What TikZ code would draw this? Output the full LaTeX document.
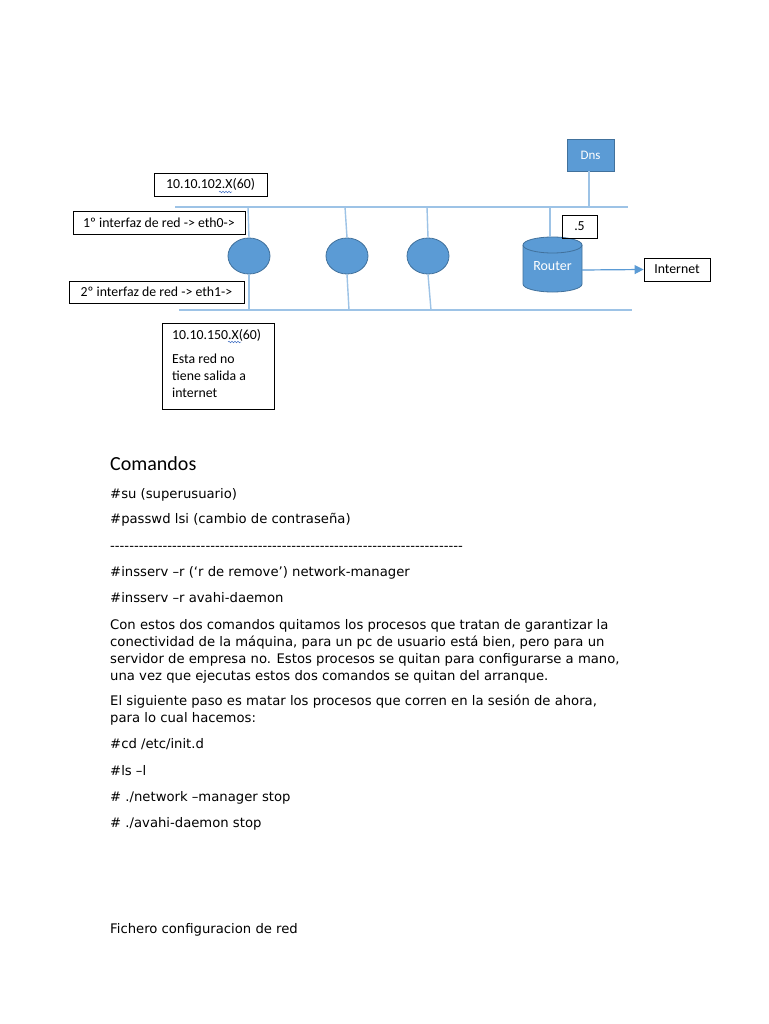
\documentclass[tikz,border=0pt]{standalone}
\usepackage{fontspec}
\setmainfont{DejaVu Sans}
\newfontfamily\diag{Carlito}
\usetikzlibrary{shapes.geometric,arrows.meta,decorations.pathmorphing}
\definecolor{ofblue}{HTML}{5B9BD5}
\definecolor{ofdark}{HTML}{41719C}
\definecolor{netline}{HTML}{9DC3E6}
\definecolor{squig}{HTML}{4472C4}
\newcount\dashcnt
\newcommand\dashrow[1]{\dashcnt=0 \loop\ifnum\dashcnt<#1 -\kern0pt\advance\dashcnt by 1 \repeat}
\tikzset{
  lbox/.style={draw=black,line width=0.9pt,font=\diag\fontsize{13.8}{16}\selectfont,inner sep=0pt,align=left},
  pc/.style={ellipse,fill=ofblue,draw=ofdark,line width=0.8pt,minimum width=42pt,minimum height=36pt,inner sep=0pt},
  net/.style={draw=netline,line width=1.4pt},
  body/.style={anchor=base west,inner sep=0pt,font=\fontsize{13.2}{17}\selectfont},
  squiggle/.style={draw=squig,line width=0.5pt,decorate,decoration={snake,amplitude=0.8pt,segment length=3pt}}
}
\begin{document}
\begin{tikzpicture}[x=1pt,y=-1pt]
\useasboundingbox[fill=white] (0,0) rectangle (768,1024);
% network lines
\coordinate (t1) at (175,207);
\coordinate (t2) at (628,207);
\coordinate (b1) at (179,310);
\coordinate (b2) at (632,310);
\draw[net] (t1) -- (t2);
\draw[net] (b1) -- (b2);
% boxes
\node[lbox,minimum width=113pt,minimum height=23pt,align=center] (ip1) at (210.5,184.5) {10.10.102.X(60)};
\node[lbox,minimum width=172pt,minimum height=23pt,align=center] (if1) at (159,222.5) {1º interfaz de red -> eth0->};
\node[lbox,minimum width=175pt,minimum height=22pt,align=center] (if2) at (156.5,292) {2º interfaz de red -> eth1->};
\node[lbox,minimum width=112pt,minimum height=86pt] (ip2) at (218,366) {};
\node[anchor=base west,inner sep=0pt,font=\diag\fontsize{13.8}{16}\selectfont] (ip2a) at (172,339) {10.10.150.X(60)};
\node[anchor=north west,inner sep=0pt,font=\diag\fontsize{13.8}{17}\selectfont,align=left] (ip2b) at (172,354) {Esta red no\\tiene salida a\\internet};
\draw[squiggle] (219,192) -- (232,192);
\draw[squiggle] (228,342) -- (241,342);
% PCs
\node[pc] (pc1) at (249,256) {};
\node[pc] (pc2) at (347,256) {};
\node[pc] (pc3) at (428,256) {};
\coordinate (p1t) at (248,207); \coordinate (p1b) at (249,310);
\coordinate (p2t) at (345,207); \coordinate (p2b) at (349,310);
\coordinate (p3t) at (427,207); \coordinate (p3b) at (431,310);
\draw[net] (p1t) -- (pc1.north);
\draw[net] (pc1.south) -- (p1b);
\draw[net] (p2t) -- (pc2.north);
\draw[net] (pc2.south) -- (p2b);
\draw[net] (p3t) -- (pc3.north);
\draw[net] (pc3.south) -- (p3b);
% Router cylinder
\fill[ofblue] (523,245) -- (523,284) arc[start angle=180,end angle=0,x radius=29.5,y radius=8] -- (582,245) -- cycle;
\draw[ofdark,line width=0.8pt] (523,245) -- (523,284) arc[start angle=180,end angle=0,x radius=29.5,y radius=8] -- (582,245);
\draw[ofdark,line width=0.8pt,fill=ofblue] (552.5,245) ellipse[x radius=29.5,y radius=8];
\node[inner sep=0pt,minimum width=59pt,minimum height=55pt,text=white,font=\diag\fontsize{14}{16}\selectfont] (router) at (552.5,266) {Router};
\coordinate (rt) at (550,207);
\draw[net] (rt) -- (550,237);
\node[lbox,minimum width=35pt,minimum height=23pt,align=center] (five) at (579.5,226.5) {.5};
% DNS
\node[fill=ofblue,draw=ofdark,line width=0.8pt,minimum width=47pt,minimum height=32pt,inner sep=0pt,text=white,font=\diag\fontsize{13}{15}\selectfont] (dns) at (590.5,155) {Dns};
\coordinate (dt) at (589,207);
\draw[net] (dns.south -| dt) -- (dt);
% Internet
\node[lbox,minimum width=66pt,minimum height=23pt,align=center] (inet) at (677,269.5) {Internet};
\draw[draw=ofblue,line width=1.2pt,-{Triangle[length=9pt,width=9pt]}] (582,270) -- (inet.west);
% text
\node[anchor=base west,inner sep=0pt,font=\diag\fontsize{20}{24}\selectfont] (h) at (110,470) {Comandos};
\node[body] (l1) at (110,498) {\#su (superusuario)};
\node[body] (l2) at (110,523) {\#passwd lsi (cambio de contraseña)};
\node[body] (l3) at (110,550) {\dashrow{74}};
\node[body] (l4) at (110,576) {\#insserv –r (‘r de remove’) network-manager};
\node[body] (l5) at (110,602) {\#insserv –r avahi-daemon};
\node[body] (p1a) at (110,629) {Con estos dos comandos quitamos los procesos que tratan de garantizar la};
\node[body] (p1b) at (110,646) {conectividad de la máquina, para un pc de usuario está bien, pero para un};
\node[body] (p1c) at (110,663) {servidor de empresa no. Estos procesos se quitan para configurarse a mano,};
\node[body] (p1d) at (110,680) {una vez que ejecutas estos dos comandos se quitan del arranque.};
\node[body] (p2a) at (110,705) {El siguiente paso es matar los procesos que corren en la sesión de ahora,};
\node[body] (p2b) at (110,722) {para lo cual hacemos:};
\node[body] (c1) at (110,748) {\#cd /etc/init.d};
\node[body] (c2) at (110,775) {\#ls –l};
\node[body] (c3) at (110,801) {\# ./network –manager stop};
\node[body] (c4) at (110,827) {\# ./avahi-daemon stop};
\node[body] (f) at (110,933) {Fichero configuracion de red};
\end{tikzpicture}
\end{document}
